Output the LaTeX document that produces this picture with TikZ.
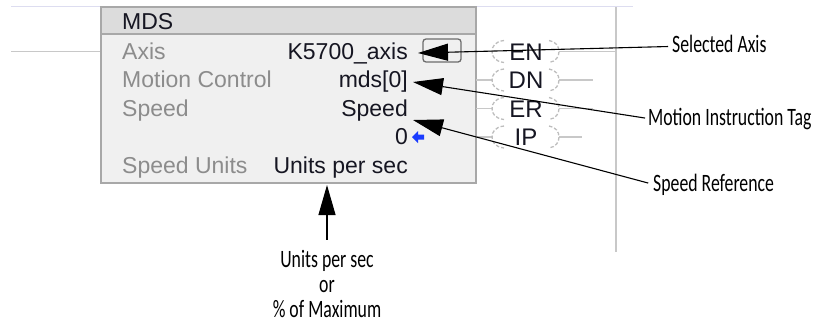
\documentclass[tikz,border=0pt]{standalone}
\usepackage{fontspec}
\setmainfont{Liberation Sans}
\newfontfamily\lblfont[FakeStretch=0.71]{Carlito}
\usetikzlibrary{arrows.meta}
\definecolor{boxfill}{HTML}{F0F0F0}
\definecolor{hdrfill}{HTML}{DCDCDC}
\definecolor{boxline}{HTML}{A8A8A8}
\definecolor{lbltext}{HTML}{8C8C8C}
\definecolor{valtext}{HTML}{161622}
\definecolor{railcol}{HTML}{C8C8C8}
\definecolor{topline}{HTML}{DDDDF0}
\definecolor{coilcol}{HTML}{BDBDBD}
\definecolor{bluearrow}{HTML}{1A3CFF}
\tikzset{
  boxtxt/.style={inner sep=0pt, font=\fontsize{23}{26}\selectfont},
  fieldlbl/.style={boxtxt, text=lbltext, anchor=base west},
  fieldval/.style={boxtxt, text=valtext, anchor=base east},
  coiltxt/.style={inner sep=0pt, font=\fontsize{24}{26}\selectfont, text=valtext, anchor=base},
  wire/.style={draw=railcol, line width=1.5pt},
  paren/.style={draw=coilcol, line width=1.3pt, dash pattern=on 3.5pt off 2pt},
  note/.style={inner sep=0pt, font=\lblfont\fontsize{25}{28}\selectfont, text=black},
  callout/.style={draw=black, line width=1.1pt, -{Triangle[length=30pt,width=17pt]}},
}
\begin{document}
\begin{tikzpicture}[x=1pt,y=-1pt]
\useasboundingbox (0,0) rectangle (820,325);
% rails and rung lines
\draw[topline, line width=1pt] (11,6) -- (633,6);
\draw[wire] (616,7) -- (616,252);
\draw[wire] (11,51.5) -- (101,51.5);
% instruction box
\fill[boxfill] (101,7) rectangle (476,183);
\fill[hdrfill] (101,7) rectangle (476,34);
\draw[boxline, line width=1.5pt] (101,7) rectangle (476,183);
\draw[boxline, line width=1.5pt] (101,34) -- (476,34);
\node[boxtxt, text=valtext, anchor=base west] (mds) at (122,29.5) {MDS};
\node[fieldlbl] (laxis) at (122,59) {Axis};
\node[fieldlbl] (lmc) at (122,87.5) {Motion Control};
\node[fieldlbl] (lspd) at (122,116) {Speed};
\node[fieldlbl] (lunits) at (122,173) {Speed Units};
\node[fieldval] (vaxis) at (408,59) {K5700\_axis};
\node[fieldval] (vmc) at (408,87.5) {mds[0]};
\node[fieldval] (vspd) at (408,116) {Speed};
\node[fieldval] (vzero) at (408,144.5) {0};
\node[fieldval] (vunits) at (408,173) {Units per sec};
% browse button
\node[draw=gray!85!black, fill=boxfill, rounded corners=3pt, line width=1.3pt,
      minimum width=38pt, minimum height=23pt, inner sep=0pt,
      font=\fontsize{9}{9}\selectfont, text=valtext] (btn) at (442,50.5) {...};
% blue arrow
\fill[bluearrow] (412,137) -- (418,131) -- (418,134.5) -- (424,134.5) -- (424,139.5) -- (418,139.5) -- (418,143) -- cycle;
% coils
\foreach \nm/\yy/\len in {EN/51.5/616,DN/80/593,ER/108.5/593,IP/137/582}{
  \draw[wire] (476,\yy) -- (493,\yy);
  \draw[wire] (559,\yy) -- (\len,\yy);
  \draw[paren] (504,\yy-11) .. controls (495,\yy-10) and (492,\yy-5) .. (492,\yy)
               .. controls (492,\yy+5) and (495,\yy+10) .. (504,\yy+11);
  \draw[paren] (549,\yy-11) .. controls (556,\yy-10) and (559,\yy-5) .. (559,\yy)
               .. controls (559,\yy+5) and (556,\yy+10) .. (549,\yy+11);
  \node[coiltxt] (coil\nm) at (526,\yy+8.5) {\nm};
}
% callout labels
\node[note, anchor=base west] (sel) at (672,52) {Selected Axis};
\node[note, anchor=base west] (mit) at (648,125) {Motion Instruction Tag};
\node[note, anchor=base west] (sref) at (653,191) {Speed Reference};
\node[note, anchor=base] (u1) at (327,267) {Units per sec};
\node[note, anchor=base] (u2) at (327,292) {or};
\node[note, anchor=base] (u3) at (327,317) {\% of Maximum};
\coordinate (tipAxis) at (418,53);
\coordinate (tipTag) at (413,82);
\coordinate (tipSpeed) at (413,120);
\coordinate (tipUnits) at (327,185);
\draw[callout, shorten <=4pt] ([yshift=-3pt]sel.west) -- (tipAxis);
\draw[callout, shorten <=3pt] (mit.west) -- (tipTag);
\draw[callout, shorten <=5pt] (sref.west) -- (tipSpeed);
\draw[callout, shorten <=10pt] (u1.north) -- (tipUnits);
\end{tikzpicture}
\end{document}
